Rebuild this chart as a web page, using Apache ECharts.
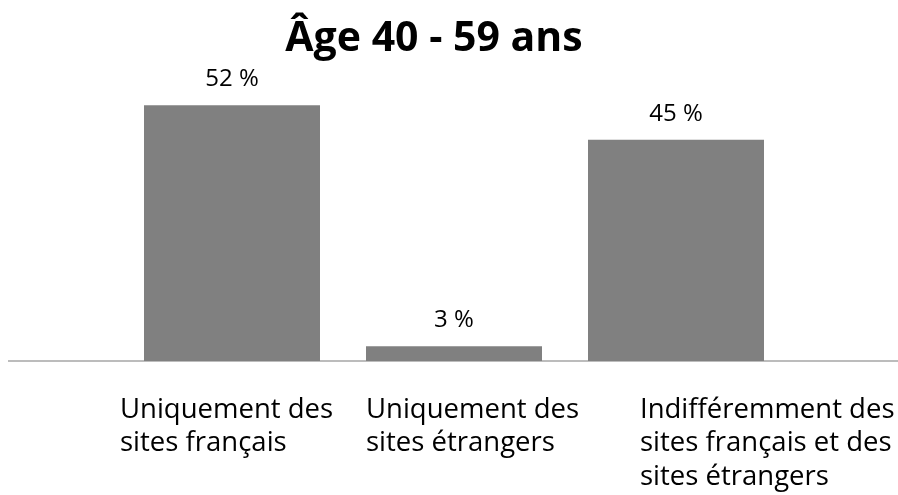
<!DOCTYPE html>
<html>
<head>
<meta charset="utf-8">
<script src="https://cdn.jsdelivr.net/npm/echarts@6/dist/echarts.min.js"></script>
<style>
  html, body { margin: 0; padding: 0; background: #fff; }
  #chart { width: 898px; height: 495px; }
</style>
</head>
<body>
<div id="chart"></div>
<script>
var categories = [
    "Uniquement des\nsites français",
    "Uniquement des\nsites étrangers",
    "Indifféremment des\nsites français et des\nsites étrangers"
];
var values = [52, 3, 45];
// shift of each label from the category centre
var labelShift = [-112, -88, -36];

var font = "Open Sans";

var chart = echarts.init(document.getElementById("chart"));

var option = {
    backgroundColor: "#ffffff",
    animation: false,
    title: {
        text: "Âge 40 - 59 ans",
        left: 429,
        top: 14,
        textAlign: "center",
        textStyle: {
            fontFamily: font,
            fontWeight: "bold",
            fontSize: 41,
            color: "#000000"
        }
    },
    grid: {
        left: 121,
        right: 111,
        top: 66,
        bottom: 134
    },
    xAxis: {
        type: "category",
        data: categories.map(function (c, i) {
            return {
                value: c,
                textStyle: { align: "left", padding: [0, 0, 0, labelShift[i]] }
            };
        }),
        axisLine: { show: false },
        axisTick: { show: false },
        axisLabel: {
            interval: 0,
            align: "left",
            margin: 32,
            fontFamily: font,
            fontSize: 27.5,
            lineHeight: 33.5,
            color: "#000000"
        }
    },
    yAxis: {
        type: "value",
        min: 0,
        max: 60,
        show: false,
        splitLine: { show: false }
    },
    graphic: [{
        type: "line",
        shape: { x1: 8, y1: 361, x2: 898, y2: 361 },
        style: { stroke: "#a6a6a6", lineWidth: 1.5 }
    }],
    series: [{
        type: "bar",
        data: values,
        barWidth: 176,
        itemStyle: { color: "#808080" },
        label: {
            show: true,
            position: "top",
            distance: 14,
            formatter: "{c} %",
            fontFamily: font,
            fontSize: 24,
            color: "#000000"
        }
    }]
};

chart.setOption(option);

window.addEventListener("resize", function () {
    chart.resize();
});
</script>
</body>
</html>
